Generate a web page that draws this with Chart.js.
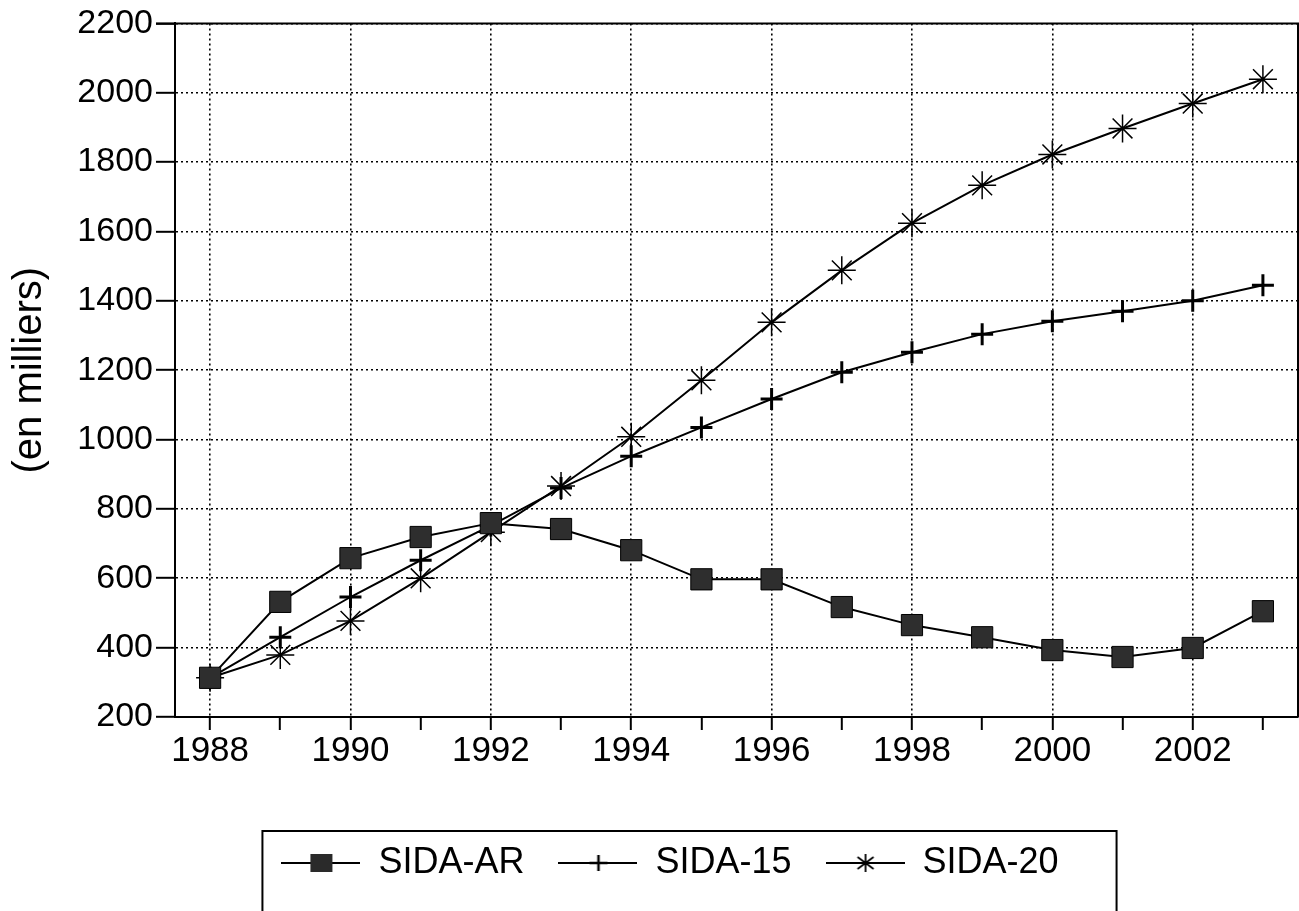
<!DOCTYPE html>
<html>
<head>
<meta charset="utf-8">
<script src="https://cdn.jsdelivr.net/npm/chart.js@4.4.1/dist/chart.umd.min.js"></script>
<style>
  html, body { margin: 0; padding: 0; background: #fff; }
  #wrap { width: 1299px; height: 911px; }
</style>
</head>
<body>
<div id="wrap"><canvas id="c" width="1299" height="911"></canvas></div>
<script>
const years = ['1988','1989','1990','1991','1992','1993','1994','1995','1996','1997','1998','1999','2000','2001','2002','2003'];
const sidaAR = [313, 532, 658, 719, 759, 742, 681, 597, 597, 517, 465, 430, 393, 373, 399, 505];
const sida15 = [313, 430, 546, 652, 752, 860, 952, 1035, 1117, 1194, 1252, 1304, 1341, 1370, 1400, 1445];
const sida20 = [313, 379, 477, 600, 733, 866, 1008, 1171, 1338, 1488, 1624, 1733, 1822, 1897, 1969, 2039];
const seriesNames = ['SIDA-AR', 'SIDA-15', 'SIDA-20'];
const yMin = 200, yMax = 2200, yStep = 200;
const yTitle = '(en milliers)';

const FONT = '"Liberation Sans", Arial, Helvetica, sans-serif';

function makeIcon(kind) {
  const c = document.createElement('canvas');
  c.width = 79; c.height = 30;
  const g = c.getContext('2d');
  g.strokeStyle = '#000';
  g.lineWidth = 2;
  g.beginPath(); g.moveTo(0, 15); g.lineTo(79, 15); g.stroke();
  const cx = 40, cy = 15;
  if (kind === 'rect') {
    g.fillStyle = '#2a2a2a';
    g.fillRect(cx - 11, cy - 9, 22, 18);
  } else if (kind === 'cross') {
    g.lineWidth = 2.5;
    g.beginPath(); g.moveTo(cx, cy - 8); g.lineTo(cx, cy + 8);
    g.moveTo(cx - 9, cy); g.lineTo(cx + 9, cy); g.stroke();
  } else {
    g.lineWidth = 1.8;
    g.beginPath();
    g.moveTo(cx, cy - 9); g.lineTo(cx, cy + 9);
    g.moveTo(cx - 8, cy - 6); g.lineTo(cx + 8, cy + 6);
    g.moveTo(cx - 8, cy + 6); g.lineTo(cx + 8, cy - 6);
    g.stroke();
  }
  return c;
}
const legendIcons = [makeIcon('rect'), makeIcon('cross'), makeIcon('star')];

const framePlugin = {
  id: 'frame',
  afterLayout(chart) {
    const lg = chart.legend;
    if (lg) { lg.left += 21; lg.right += 21; }
  },
  afterDatasetsDraw(chart) {
    const a = chart.chartArea, g = chart.ctx;
    g.save();
    g.strokeStyle = '#000';
    g.lineWidth = 2;
    g.beginPath();
    g.moveTo(a.left - 19, a.top); g.lineTo(a.right, a.top); g.lineTo(a.right, a.bottom);
    g.stroke();
    g.restore();
  },
  afterDraw(chart) {
    const lg = chart.legend;
    if (!lg || !lg.legendHitBoxes || !lg.legendHitBoxes.length) return;
    const hb = lg.legendHitBoxes;
    const first = hb[0], last = hb[hb.length - 1];
    const g = chart.ctx;
    g.save();
    g.strokeStyle = '#000';
    g.lineWidth = 2;
    const l = first.left - 19, t = first.top - 14, r = last.left + last.width + 58;
    g.beginPath();
    g.moveTo(l, chart.height + 5); g.lineTo(l, t); g.lineTo(r, t); g.lineTo(r, chart.height + 5);
    g.stroke();
    g.restore();
  }
};

new Chart(document.getElementById('c'), {
  type: 'line',
  data: {
    labels: years,
    datasets: [
      {
        label: seriesNames[0], data: sidaAR,
        borderColor: '#000', borderWidth: 2, tension: 0,
        pointStyle: 'rect', pointRadius: 15, pointHoverRadius: 15,
        pointBackgroundColor: '#2e2e2e', pointBorderColor: '#000', pointBorderWidth: 1
      },
      {
        label: seriesNames[1], data: sida15,
        borderColor: '#000', borderWidth: 2, tension: 0,
        pointStyle: 'cross', pointRadius: 11, pointHoverRadius: 11,
        pointBorderColor: '#000', pointBorderWidth: 3
      },
      {
        label: seriesNames[2], data: sida20,
        borderColor: '#000', borderWidth: 2, tension: 0,
        pointStyle: 'star', pointRadius: 14, pointHoverRadius: 14,
        pointBorderColor: '#000', pointBorderWidth: 1.5
      }
    ]
  },
  options: {
    responsive: false,
    animation: false,
    events: [],
    layout: { autoPadding: false, padding: { top: 23, right: 1, bottom: 20, left: 0 } },
    plugins: {
      tooltip: { enabled: false },
      legend: {
        position: 'bottom',
        labels: {
          usePointStyle: true,
          pointStyleWidth: 79,
          padding: 34,
          color: '#000',
          font: { family: FONT, size: 36 },
          generateLabels(chart) {
            const items = Chart.defaults.plugins.legend.labels.generateLabels(chart);
            items.forEach((it, i) => { it.pointStyle = legendIcons[i]; it.lineWidth = 0; });
            return items;
          }
        }
      }
    },
    scales: {
      x: {
        type: 'category',
        offset: true,
        afterFit(s) { s.height = 94; },
        grid: {
          display: true,
          offset: false,
          color: (ctx) => (ctx.index % 2 === 0 ? '#000' : 'rgba(0,0,0,0)'),
          lineWidth: 1.6,
          tickColor: '#000',
          tickWidth: 2,
          tickLength: 13
        },
        border: { display: true, color: '#000', width: 2, dash: [2, 3] },
        ticks: {
          autoSkip: false,
          maxRotation: 0,
          padding: 0,
          color: '#000',
          font: { family: FONT, size: 35 },
          callback(value, index) { return index % 2 === 0 ? this.getLabelForValue(value) : ''; }
        }
      },
      y: {
        min: yMin, max: yMax,
        afterFit(s) { s.width = 175; },
        grid: {
          color: '#000',
          lineWidth: 1.6,
          tickColor: '#000',
          tickWidth: 2,
          tickLength: 19
        },
        border: { display: true, color: '#000', width: 2, dash: [2, 3] },
        ticks: {
          stepSize: yStep,
          padding: 3,
          color: '#000',
          font: { family: FONT, size: 34 },
          callback: (v) => String(v)
        },
        title: {
          display: true,
          text: yTitle,
          color: '#000',
          padding: { top: 6, bottom: 0 },
          font: { family: FONT, size: 40 }
        }
      }
    }
  },
  plugins: [framePlugin]
});
</script>
</body>
</html>
